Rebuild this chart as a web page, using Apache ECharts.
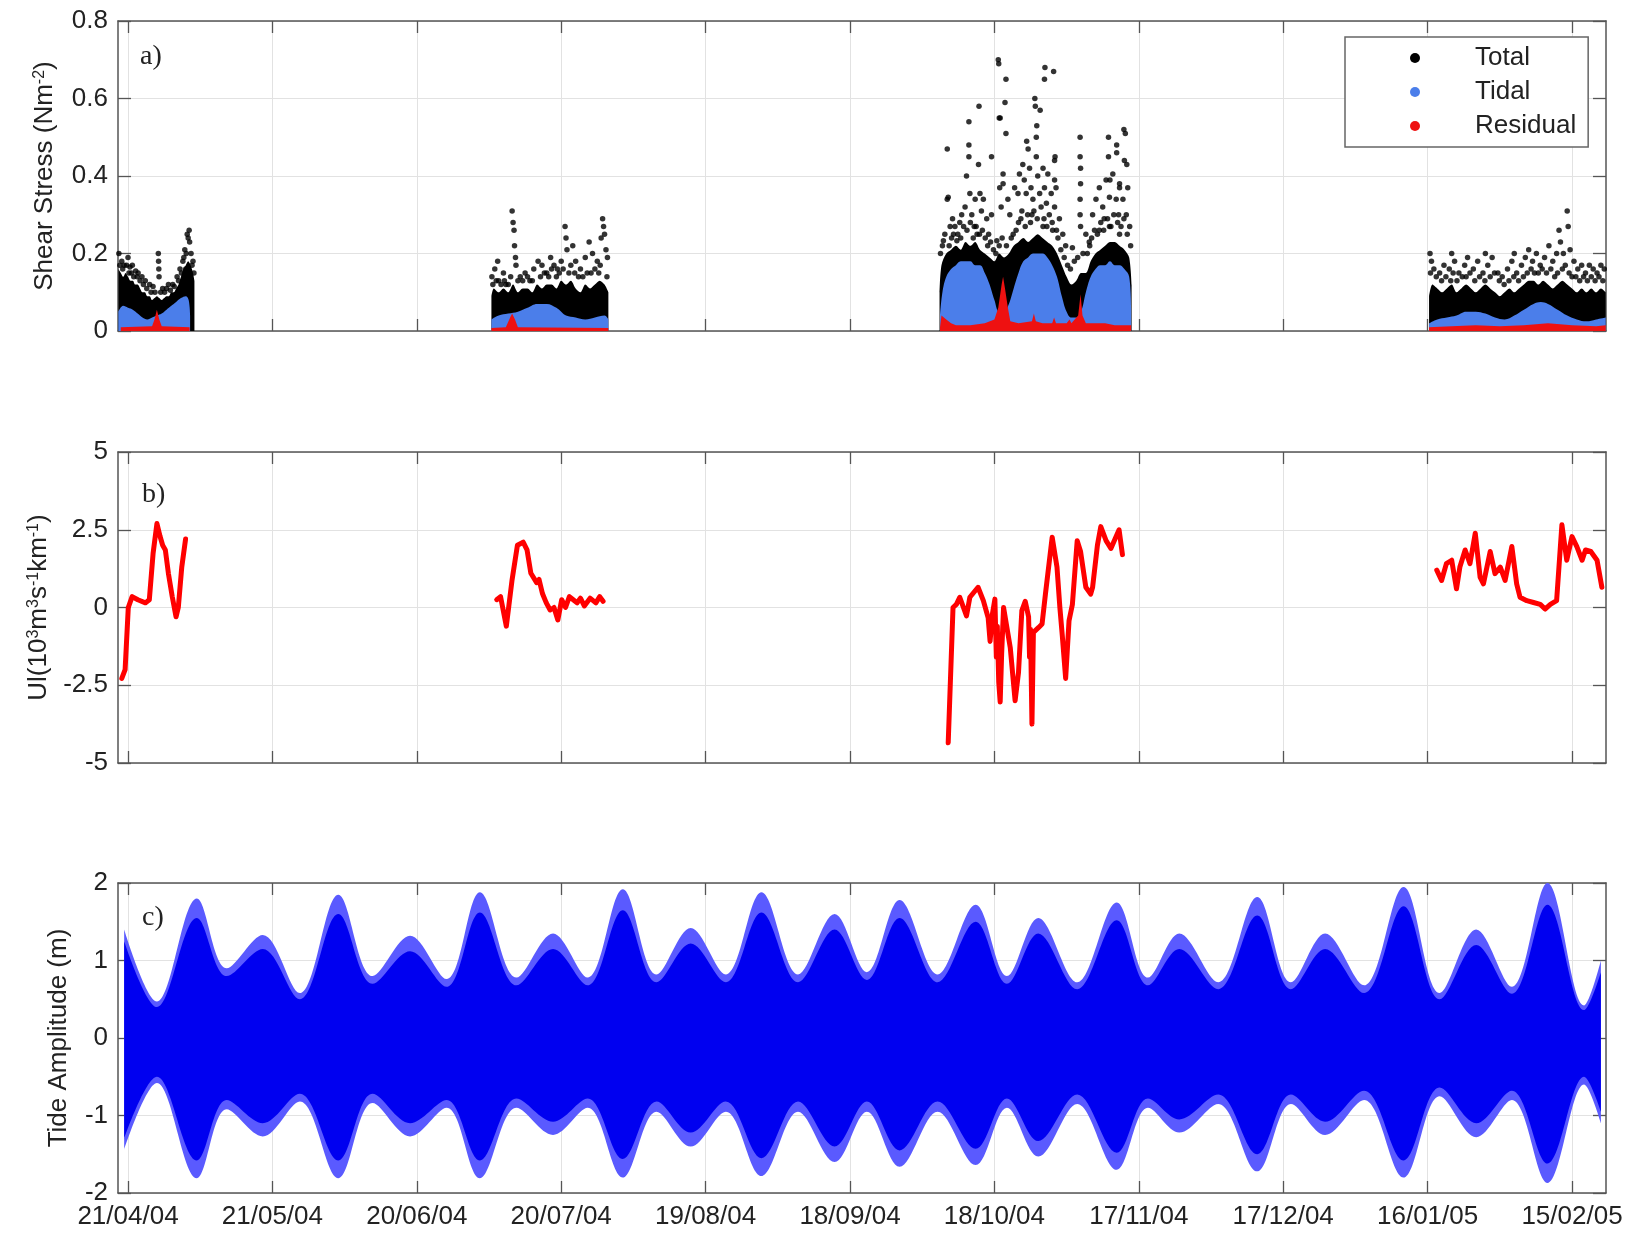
<!DOCTYPE html>
<html><head><meta charset="utf-8">
<script src="https://cdn.jsdelivr.net/npm/echarts@6/dist/echarts.min.js"></script>
<style>html,body{margin:0;padding:0;background:#fff}#c{width:1636px;height:1236px}</style>
</head><body><div id="c"></div>
<script>
// x values are days since 21/04/2004
const tickDays = [0,30,60,90,120,150,180,210,240,270,300];
const tickLabels = ['21/04/04','21/05/04','20/06/04','20/07/04','19/08/04','18/09/04','18/10/04','17/11/04','17/12/04','16/01/05','15/02/05'];
const xMin = -2.078, xMax = 307.06;

// ---------- Panel a : shear stress ----------
const totalCoreW1 = [[-2.0,0.16],[-1.5,0.15],[-1.0,0.14],[-0.5,0.15],[0,0.14],[0.5,0.13],[1,0.13],[1.5,0.12],[2,0.12],[2.5,0.11],[3,0.1],[3.5,0.1],[4,0.09],[4.5,0.09],[5,0.08],[5.5,0.085],[6,0.09],[6.5,0.085],[7,0.08],[7.5,0.085],[8,0.09],[8.5,0.09],[9,0.1],[9.5,0.1],[10,0.11],[10.5,0.12],[11,0.14],[11.5,0.16],[12,0.17],[12.5,0.18],[13,0.17],[13.5,0.15],[13.8,0.13]];
const totalCoreW2 = [[75.5,0.09],[76,0.11],[77,0.1],[78,0.11],[79,0.1],[80,0.12],[81,0.1],[82,0.11],[83,0.11],[84,0.1],[85,0.12],[86,0.11],[87,0.12],[88,0.12],[89,0.11],[90,0.13],[91,0.12],[92,0.13],[93,0.11],[94,0.1],[95,0.12],[96,0.11],[97,0.12],[98,0.13],[99,0.12],[99.8,0.1]];
const totalCoreW3 = [[168.6,0.1],[169,0.17],[170,0.2],[171,0.21],[172,0.22],[173,0.21],[174,0.23],[175,0.22],[176,0.23],[177,0.21],[178,0.2],[179,0.19],[180,0.18],[181,0.2],[182,0.19],[183,0.2],[184,0.22],[185,0.23],[186,0.24],[187,0.23],[188,0.24],[189,0.25],[190,0.24],[191,0.23],[192,0.22],[193,0.2],[194,0.17],[195,0.14],[196,0.12],[197,0.13],[198,0.15],[199,0.15],[200,0.18],[201,0.2],[202,0.21],[203,0.22],[204,0.23],[205,0.23],[206,0.22],[207,0.21],[208,0.19],[208.5,0.12]];
const totalCoreW4 = [[270.3,0.09],[271,0.12],[272,0.11],[273,0.1],[274,0.11],[275,0.12],[276,0.1],[277,0.11],[278,0.12],[279,0.11],[280,0.1],[281,0.11],[282,0.12],[283,0.11],[284,0.1],[285,0.09],[286,0.1],[287,0.11],[288,0.1],[289,0.11],[290,0.12],[291,0.13],[292,0.13],[293,0.12],[294,0.13],[295,0.12],[296,0.11],[297,0.12],[298,0.13],[299,0.12],[300,0.11],[301,0.1],[302,0.11],[303,0.1],[304,0.11],[305,0.1],[306,0.11],[307,0.1]];
const totalDots = [
 [-1.9,0.2],[-1.3,0.18],[-0.8,0.17],[0,0.19],[0.4,0.165],[0.9,0.17],[1.6,0.155],[2.1,0.15],[2.9,0.14],[3.6,0.13],[4.5,0.12],[5.2,0.115],[6.3,0.2],[6.35,0.18],[6.4,0.16],[6.45,0.14],[7.2,0.11],[8.4,0.12],[9.3,0.12],[10.2,0.14],[10.8,0.16],[11.4,0.18],[11.8,0.21],[12.3,0.25],[12.5,0.24],[12.8,0.23],[13.1,0.2],[13.5,0.18],[12,0.16],
 [-1.7,0.17],[-1.1,0.16],[-0.3,0.17],[0.2,0.15],[0.7,0.15],[1.2,0.14],[1.9,0.14],[2.5,0.13],[3.2,0.12],[3.9,0.11],[4.8,0.1],[5.6,0.1],[6.8,0.1],[7.6,0.1],[8.0,0.11],[8.8,0.105],[9.6,0.115],[10.5,0.13],[11.1,0.15],[11.6,0.19],[12.1,0.2],[12.7,0.26],[13.3,0.17],[13.7,0.15],
 [75.6,0.14],[76.2,0.16],[76.8,0.18],[77,0.13],[78,0.15],[78.5,0.12],[79.8,0.31],[80,0.28],[80.2,0.26],[80.3,0.22],[80.5,0.19],[80.6,0.17],[81.5,0.14],[82.5,0.15],[83.5,0.13],[84.3,0.16],[85.2,0.18],[86,0.17],[87,0.15],[87.8,0.19],[88.5,0.17],[89.2,0.16],[90,0.18],[90.8,0.27],[91,0.24],[91.2,0.21],[92.4,0.22],[93,0.18],[94,0.16],[95,0.19],[95.8,0.23],[96.5,0.2],[97.5,0.18],[98.3,0.24],[98.6,0.29],[98.8,0.27],[99,0.25],[99.3,0.21],[99.6,0.19],
 [75.8,0.12],[76.5,0.13],[77.5,0.12],[78.2,0.13],[79.0,0.12],[79.5,0.14],[81,0.13],[82,0.13],[83,0.14],[84,0.13],[85.7,0.14],[86.5,0.15],[87.4,0.14],[88,0.16],[89,0.14],[89.6,0.15],[90.4,0.16],[91.6,0.15],[92,0.17],[92.8,0.15],[93.6,0.14],[94.5,0.14],[95.4,0.15],[96.2,0.15],[97,0.16],[97.8,0.15],[98.1,0.17],[99.5,0.14],
 [180.8,0.70],[180.9,0.69],[182.4,0.65],[182.2,0.59],[181.2,0.55],[181.0,0.55],[182.4,0.51],[176.8,0.58],[174.7,0.54],[174.7,0.48],[174.7,0.45],[170.2,0.47],[170.2,0.34],[176.7,0.43],[174.2,0.40],[179.4,0.45],[190.5,0.68],[192.3,0.67],[190.4,0.65],[188.4,0.60],[188.5,0.58],[189.5,0.57],[188.8,0.53],[188.7,0.50],[186.7,0.49],[187,0.47],[192.6,0.45],[192.5,0.44],[192.5,0.39],[197.8,0.50],[197.8,0.45],[197.9,0.42],[197.9,0.38],[197.8,0.34],[197.8,0.30],[197.9,0.27],[203.7,0.50],[205.4,0.48],[206.9,0.52],[207.2,0.51],[207.5,0.43],[203.7,0.45],[205.4,0.46],[204,0.39],[206,0.37],
 [170.4,0.345],[170.8,0.27],[171.5,0.25],[173.2,0.30],[173.9,0.32],[174.9,0.355],[175.3,0.30],[176.0,0.34],[177.0,0.355],[177.3,0.31],[177.7,0.34],[178.4,0.29],[179.4,0.30],[181.1,0.37],[181.4,0.32],[181.8,0.405],[181.8,0.38],[182.8,0.34],[183.2,0.30],[184.2,0.37],[184.9,0.355],[185.2,0.405],[185.9,0.43],[186.2,0.39],[186.6,0.355],[187.3,0.42],[187.6,0.37],[188.0,0.34],[188.7,0.45],[189,0.40],[189.4,0.355],[190.1,0.42],[190.4,0.37],[190.8,0.33],[191.1,0.405],[191.8,0.355],[192.5,0.32],[192.8,0.37],[193.5,0.29],[194.2,0.25],[196.2,0.215],[199.0,0.25],[200.4,0.30],[201.1,0.34],[201.8,0.37],[202.5,0.32],[203.2,0.39],[203.9,0.345],[204.6,0.405],[205.3,0.34],[206.0,0.38],[206.7,0.34],[207.0,0.44],[207.4,0.30],[207.7,0.37],[208.1,0.27],
 [169.4,0.233],[172.2,0.233],[176.4,0.25],[180.5,0.233],[183.9,0.25],[190.1,0.27],[192.1,0.26],[201.8,0.26],[203.9,0.27],[206,0.25],[172.8,0.28],[175.8,0.27],[178.8,0.25],[185.5,0.29],[187.8,0.3],[194.8,0.22],[199.8,0.22],[202.8,0.29],[205.8,0.3],[171.3,0.29],
 [168.8,0.2],[169.2,0.22],[169.7,0.25],[170.6,0.22],[171.1,0.24],[171.8,0.27],[172.4,0.25],[173,0.24],[173.6,0.27],[174.3,0.26],[175,0.28],[175.6,0.24],[176.2,0.27],[176.9,0.25],[177.5,0.26],[178.1,0.24],[178.6,0.22],[179.2,0.23],[179.8,0.21],[180.3,0.2],[181,0.22],[181.6,0.24],[182.5,0.22],[183.5,0.24],[184.5,0.26],[185,0.28],[185.7,0.31],[186.4,0.27],[186.9,0.3],[187.5,0.28],[188.2,0.31],[188.9,0.29],[189.7,0.32],[190.3,0.29],[190.9,0.27],[191.4,0.3],[192,0.28],[192.9,0.26],[193.2,0.24],[193.8,0.21],[194.5,0.19],[195.2,0.17],[195.8,0.16],[196.6,0.18],[197.3,0.19],[198.4,0.2],[199.3,0.2],[199.7,0.23],[200.2,0.24],[200.8,0.26],[201.4,0.25],[202.1,0.28],[202.7,0.26],[203.5,0.29],[204.2,0.27],[204.8,0.3],[205.6,0.28],[206.3,0.27],[206.9,0.29],[207.6,0.25],[208.3,0.22],
 [270.5,0.2],[270.8,0.18],[271.3,0.16],[272.5,0.15],[273.4,0.17],[274.5,0.16],[275.6,0.18],[276.5,0.15],[277.7,0.17],[278.3,0.19],[279.5,0.16],[280.4,0.18],[281.5,0.15],[282.5,0.17],[283.4,0.19],[284.6,0.15],[285.5,0.14],[286.6,0.16],[287.5,0.18],[288.5,0.15],[289.5,0.17],[290.3,0.19],[291,0.21],[291.8,0.18],[292.6,0.2],[293.4,0.17],[294.3,0.19],[295.2,0.22],[296,0.18],[296.8,0.2],[297.3,0.26],[297.6,0.23],[298.2,0.2],[299.0,0.31],[299.2,0.27],[299.6,0.21],[300.4,0.18],[301.2,0.16],[302,0.17],[302.8,0.15],[303.6,0.17],[304.4,0.16],[305.2,0.15],[306,0.17],[306.7,0.16],[275,0.2],[282,0.2],[288,0.2],
 [270.6,0.15],[271.8,0.14],[272.9,0.13],[273.8,0.14],[274.8,0.13],[275.3,0.15],[276.1,0.13],[277.2,0.14],[278,0.14],[278.8,0.15],[279.8,0.13],[280.8,0.14],[281.9,0.13],[283,0.14],[283.9,0.15],[284.9,0.13],[285.9,0.12],[286.9,0.13],[287.9,0.14],[288.9,0.13],[289.9,0.14],[290.7,0.15],[291.5,0.16],[292.2,0.15],[293,0.15],[293.8,0.16],[294.7,0.15],[295.6,0.16],[296.4,0.14],[297,0.15],[298,0.16],[298.6,0.17],[299.4,0.15],[300,0.14],[300.8,0.14],[301.6,0.13],[302.4,0.14],[303.2,0.13],[304,0.14],[304.8,0.13],[305.6,0.14],[306.4,0.13]
];
const tidalW1 = [[-2,0.05],[-1,0.065],[0,0.06],[1,0.055],[2,0.045],[3,0.035],[4,0.03],[5,0.035],[6,0.04],[7,0.045],[8,0.055],[9,0.065],[10,0.075],[11,0.085],[12,0.09],[12.6,0.08],[12.9,0.04]];
const tidalW2 = [[75.5,0.03],[77,0.04],[79,0.045],[81,0.05],[83,0.06],[85,0.07],[87,0.07],[89,0.06],[90,0.05],[91,0.04],[93,0.035],[95,0.03],[97,0.035],[99,0.04],[99.8,0.03]];
const tidalW3 = [[168.7,0.04],[169.2,0.1],[170,0.14],[171,0.16],[172,0.17],[173,0.18],[174,0.18],[175,0.18],[176,0.17],[177,0.17],[178,0.15],[179,0.12],[180,0.08],[181,0.05],[182,0.05],[183,0.07],[184,0.11],[185,0.15],[186,0.18],[187,0.19],[188,0.2],[189,0.2],[190,0.2],[191,0.19],[192,0.17],[193,0.14],[194,0.09],[195,0.05],[196,0.035],[197,0.035],[198,0.05],[199,0.1],[200,0.14],[201,0.16],[202,0.17],[203,0.17],[204,0.18],[205,0.17],[206,0.17],[207,0.16],[208,0.14],[208.4,0.06]];
const tidalW4 = [[270.3,0.02],[272,0.03],[274,0.035],[276,0.04],[278,0.05],[280,0.05],[282,0.045],[284,0.035],[286,0.03],[288,0.04],[290,0.055],[292,0.07],[293.5,0.075],[295,0.07],[297,0.055],[299,0.04],[301,0.03],[303,0.025],[305,0.03],[307,0.035]];
const residW1 = [[-1.5,0.01],[5,0.012],[5.5,0.03],[6,0.055],[6.5,0.03],[7,0.012],[12.8,0.01]];
const residW2 = [[75.5,0.008],[78.5,0.01],[79.2,0.03],[79.8,0.045],[80.4,0.03],[81,0.01],[99.8,0.008]];
const residW3 = [[168.7,0.01],[169,0.04],[170,0.03],[171,0.02],[172,0.015],[175,0.015],[178,0.02],[180,0.03],[180.8,0.06],[181.5,0.12],[181.8,0.14],[182.2,0.11],[182.8,0.06],[183.3,0.025],[185,0.02],[187.8,0.025],[188.2,0.045],[188.6,0.025],[190,0.02],[192,0.02],[192.4,0.035],[192.8,0.02],[195,0.02],[195.6,0.03],[196,0.02],[197.4,0.04],[197.9,0.095],[198.3,0.04],[199,0.02],[203,0.02],[205,0.015],[208.4,0.015]];
const residW4 = [[270.3,0.01],[275,0.012],[280,0.015],[285,0.012],[290,0.015],[295,0.02],[300,0.015],[305,0.012],[307,0.015]];

// ---------- Panel b : upwelling index ----------
const uiW1 = [[-1.29,-2.28],[-0.6,-2.0],[0.06,0.0],[0.86,0.35],[2.04,0.25],[3.63,0.15],[4.43,0.25],[5.22,1.75],[6.01,2.7],[6.64,2.3],[7.2,2.0],[7.76,1.85],[8.39,1.1],[9.19,0.35],[9.98,-0.3],[10.45,0.0],[11.17,1.3],[11.96,2.2]];
const uiW2 = [[76.6,0.25],[77.4,0.35],[78.6,-0.6],[79.8,0.9],[80.9,2.0],[82.1,2.1],[82.9,1.85],[83.7,1.1],[84.9,0.8],[85.4,0.9],[86.1,0.45],[86.9,0.15],[87.7,-0.08],[88.5,0.0],[89.3,-0.4],[90.1,0.25],[90.9,0.0],[91.7,0.35],[92.5,0.25],[93.3,0.15],[94.0,0.3],[94.8,0.05],[96.0,0.3],[97.2,0.15],[98.0,0.35],[98.7,0.2]];
const uiW3 = [[170.4,-4.35],[171.4,0.0],[172.1,0.1],[172.8,0.33],[174.2,-0.27],[174.9,0.33],[176.6,0.65],[177.7,0.22],[178.7,-0.33],[179.1,-1.09],[179.6,-0.2],[180.1,0.27],[180.4,-1.6],[180.6,-0.6],[180.9,-2.4],[181.2,-3.04],[181.5,-1.5],[181.9,0.0],[182.2,-0.05],[183.3,-1.3],[184.3,-3.0],[185.0,-2.1],[185.7,-0.1],[186.4,0.2],[187.1,-0.3],[187.3,-1.6],[187.5,-0.7],[187.8,-3.75],[188.1,-0.8],[189.2,-0.64],[189.9,-0.53],[190.6,0.43],[192.0,2.26],[193.0,1.3],[193.6,0.0],[194.1,-0.9],[194.8,-2.28],[195.5,-0.43],[196.2,0.1],[197.2,2.15],[197.9,1.8],[199.0,0.65],[200.0,0.43],[200.4,0.65],[201.4,2.0],[202.1,2.6],[203.2,2.15],[204.2,1.9],[204.9,2.15],[205.9,2.5],[206.6,1.7]];
const uiW4 = [[271.9,1.2],[272.9,0.87],[273.9,1.41],[275.0,1.52],[276.0,0.6],[276.7,1.3],[277.8,1.85],[278.8,1.41],[279.9,2.39],[280.9,0.98],[281.6,0.76],[283.0,1.8],[284.0,1.09],[285.1,1.3],[286.1,0.87],[287.5,1.96],[288.5,0.76],[289.2,0.33],[290.6,0.22],[292.0,0.16],[293.4,0.1],[294.4,-0.05],[295.5,0.1],[296.8,0.22],[297.9,2.66],[298.9,1.52],[300.0,2.28],[301.0,1.96],[302.1,1.52],[302.8,1.85],[303.9,1.8],[305.2,1.52],[306.2,0.65]];

// ---------- Panel c : tide amplitude envelopes ----------
const tideDays = [-0.8,6.0,14.3,20.5,28.0,35.7,43.7,50.8,58.6,66.2,73.1,80.7,88.3,95.5,102.8,109.8,116.9,124.2,131.6,139.2,146.8,153.5,160.3,168.2,176.1,182.6,189.1,197.2,205.4,211.9,218.4,226.5,234.6,241.6,248.7,256.8,265.0,272.5,280.1,287.5,294.9,302.5,306.0];
const tideUpper = [1.4,0.47,1.8,0.9,1.33,0.58,1.85,0.8,1.32,0.76,1.88,0.78,1.35,0.78,1.92,0.82,1.42,0.82,1.88,0.82,1.6,0.85,1.78,0.82,1.72,0.8,1.55,0.72,1.75,0.78,1.35,0.72,1.82,0.72,1.35,0.68,1.95,0.58,1.4,0.66,2.0,0.42,1.0];
const tideLower = [-1.44,-0.58,-1.81,-0.92,-1.27,-0.82,-1.81,-0.84,-1.27,-0.9,-1.81,-0.9,-1.25,-0.9,-1.8,-0.95,-1.4,-0.95,-1.78,-0.95,-1.6,-0.95,-1.66,-0.95,-1.64,-0.9,-1.53,-0.85,-1.7,-0.9,-1.22,-0.85,-1.72,-0.85,-1.25,-0.8,-1.8,-0.75,-1.28,-0.8,-1.87,-0.6,-1.1];
const tideUpperCore = [1.25,0.4,1.55,0.8,1.15,0.5,1.6,0.7,1.12,0.66,1.62,0.68,1.15,0.68,1.65,0.72,1.22,0.72,1.62,0.72,1.4,0.75,1.55,0.72,1.5,0.7,1.35,0.63,1.52,0.68,1.15,0.63,1.58,0.63,1.15,0.58,1.7,0.5,1.2,0.57,1.72,0.36,0.85];
const tideLowerCore = [-1.3,-0.5,-1.58,-0.8,-1.1,-0.72,-1.58,-0.72,-1.1,-0.8,-1.58,-0.78,-1.08,-0.78,-1.56,-0.82,-1.22,-0.82,-1.55,-0.82,-1.4,-0.82,-1.45,-0.82,-1.43,-0.78,-1.33,-0.73,-1.48,-0.78,-1.05,-0.73,-1.5,-0.73,-1.08,-0.68,-1.58,-0.64,-1.1,-0.68,-1.62,-0.5,-0.95];

// ---------- styling ----------
const FONT = '"Liberation Sans", Arial, sans-serif';
const AX = '#555';
const TXT = '#222';
const C_TOTAL = '#000000', C_TIDAL = '#4b7eea', C_RESID = '#ee1111';
const C_TIDE = '#0000f0', C_TIDE_FRINGE = '#5a5aff';

const grids = [
  {left:118, width:1488, top:21, height:310},
  {left:118, width:1488, top:452, height:311},
  {left:118, width:1488, top:883, height:310}
];
const yCfg = [
  {min:0, max:0.8, interval:0.2, name:'Shear Stress (Nm{sup|-2})', gap:60, fmt:v=>String(+v.toFixed(1))},
  {min:-5, max:5, interval:2.5, name:'Ul(10{sup|3}m{sup|3}s{sup|-1}km{sup|-1})', gap:66, fmt:v=>String(v)},
  {min:-2, max:2, interval:1, name:'Tide Amplitude (m)', gap:46, fmt:v=>String(v)}
];

const xAxis = [], yAxis = [];
grids.forEach((g,i)=>{
  const common = {type:'value', gridIndex:i, min:xMin, max:xMax,
    axisLine:{show:true, onZero:false, lineStyle:{color:AX, width:1.5}},
    splitLine:{show:false}};
  xAxis.push(Object.assign({}, common, {position:'bottom',
    axisTick:{show:true, inside:true, length:12, customValues:tickDays, lineStyle:{color:AX, width:1.3}},
    axisLabel:{show:i===2, customValues:tickDays, margin:11, fontSize:26, fontFamily:FONT, color:TXT,
      formatter:(v)=>{const k=tickDays.indexOf(Math.round(v)); return k>=0?tickLabels[k]:'';}}}));
  xAxis.push(Object.assign({}, common, {position:'top',
    axisTick:{show:true, inside:true, length:12, customValues:tickDays, lineStyle:{color:AX, width:1.3}},
    axisLabel:{show:false}}));
  const c = yCfg[i];
  yAxis.push({type:'value', gridIndex:i, position:'left', min:c.min, max:c.max, interval:c.interval,
    axisLine:{show:true, onZero:false, lineStyle:{color:AX, width:1.5}},
    axisTick:{show:true, inside:true, length:13, lineStyle:{color:AX, width:1.3}},
    axisLabel:{show:true, margin:10, fontSize:26, fontFamily:FONT, color:TXT, formatter:c.fmt},
    splitLine:{show:true, lineStyle:{color:'#e2e2e2', width:1}},
    name:c.name, nameLocation:'middle', nameGap:c.gap,
    nameTextStyle:{fontSize:26, fontFamily:FONT, color:TXT,
      rich:{sup:{fontSize:16, fontFamily:FONT, color:TXT, verticalAlign:'top'}}}});
  yAxis.push({type:'value', gridIndex:i, position:'right', min:c.min, max:c.max, interval:c.interval,
    axisLine:{show:true, onZero:false, lineStyle:{color:AX, width:1.5}},
    axisTick:{show:true, inside:true, length:13, lineStyle:{color:AX, width:1.3}},
    axisLabel:{show:false}, splitLine:{show:false}});
});

const series = [];
// vertical grid lines (behind data)
grids.forEach((g,i)=>{
  series.push({type:'line', name:'grid'+i, xAxisIndex:2*i, yAxisIndex:2*i, data:[], silent:true, z:0,
    markLine:{silent:true, z:0, symbol:'none', animation:false, label:{show:false},
      lineStyle:{color:'#e2e2e2', width:1, type:'solid'},
      data:tickDays.map(d=>({xAxis:d}))}});
});
function area(gi, name, data, color, z, smooth){
  return {type:'line', name, xAxisIndex:2*gi, yAxisIndex:2*gi, data, symbol:'none', silent:true,
    smooth: smooth||false, lineStyle:{width:0, opacity:0}, areaStyle:{color, opacity:1}, z};
}
[totalCoreW1,totalCoreW2,totalCoreW3,totalCoreW4].forEach(d=>series.push(area(0,'Total',d,C_TOTAL,2,0.3)));
series.push({type:'scatter', name:'Total', xAxisIndex:0, yAxisIndex:0, data:totalDots, symbol:'circle', symbolSize:5.5,
  itemStyle:{color:C_TOTAL}, silent:true, z:2});
[tidalW1,tidalW2,tidalW3,tidalW4].forEach(d=>series.push(area(0,'Tidal',d,C_TIDAL,3,0.4)));
[residW1,residW2,residW3,residW4].forEach(d=>series.push(area(0,'Residual',d,C_RESID,4)));

[uiW1,uiW2,uiW3,uiW4].forEach(d=>series.push({type:'line', name:'UI', xAxisIndex:2, yAxisIndex:2, data:d,
  symbol:'none', silent:true, lineStyle:{color:'#ff0000', width:5, join:'round', cap:'round'}, z:3}));

const pts = arr => tideDays.map((d,k)=>[d, arr[k]]);
series.push(area(2,'tideU',pts(tideUpper),C_TIDE_FRINGE,3,0.35));
series.push(area(2,'tideL',pts(tideLower),C_TIDE_FRINGE,3,0.35));
series.push(area(2,'tideUc',pts(tideUpperCore),C_TIDE,4,0.35));
series.push(area(2,'tideLc',pts(tideLowerCore),C_TIDE,4,0.35));

const option = {
  animation:false,
  backgroundColor:'#ffffff',
  grid: grids.map(g=>Object.assign({containLabel:false, outerBoundsMode:'none'}, g)),
  xAxis, yAxis, series,
  legend:{show:true, orient:'vertical', left:1345, top:37, padding:[8,12,8,65], itemWidth:10, itemHeight:10,
    itemGap:8, selectedMode:false, borderColor:'#666', borderWidth:1.5, backgroundColor:'#fff',
    textStyle:{fontSize:26, fontFamily:FONT, color:TXT, padding:[0,0,0,50]},
    data:[{name:'Total', icon:'circle', itemStyle:{color:C_TOTAL}},
          {name:'Tidal', icon:'circle', itemStyle:{color:C_TIDAL}},
          {name:'Residual', icon:'circle', itemStyle:{color:C_RESID}}]},
  graphic:[
    {type:'text', left:140, top:43, style:{text:'a)', font:'28px "Liberation Serif", "Times New Roman", serif', fill:TXT}},
    {type:'text', left:142, top:481, style:{text:'b)', font:'28px "Liberation Serif", "Times New Roman", serif', fill:TXT}},
    {type:'text', left:142, top:904, style:{text:'c)', font:'28px "Liberation Serif", "Times New Roman", serif', fill:TXT}}
  ]
};
const chart = echarts.init(document.getElementById('c'), null, {renderer:'canvas'});
chart.setOption(option);
</script></body></html>
